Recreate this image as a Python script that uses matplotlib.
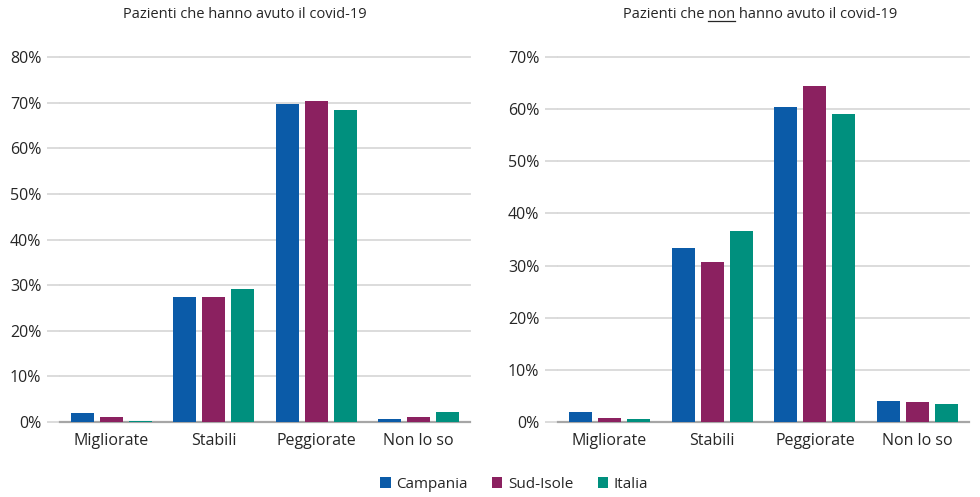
import matplotlib
matplotlib.use("Agg")
import matplotlib.pyplot as plt
import numpy as np

plt.rcParams['font.family'] = ['Open Sans', 'DejaVu Sans']

## data (fractions)
categories = ["Migliorate", "Stabili", "Peggiorate", "Non lo so"]
series_names = ["Campania", "Sud-Isole", "Italia"]
colors = ["#0B5BA8", "#8B2160", "#00907E"]

covid_campania = [0.019, 0.273, 0.697, 0.007]
covid_sud = [0.010, 0.273, 0.704, 0.010]
covid_italia = [0.003, 0.291, 0.684, 0.023]

noncovid_campania = [0.020, 0.334, 0.605, 0.040]
noncovid_sud = [0.008, 0.306, 0.644, 0.038]
noncovid_italia = [0.005, 0.367, 0.590, 0.035]

left_ticks = [0, 0.1, 0.2, 0.3, 0.4, 0.5, 0.6, 0.7, 0.8]
right_ticks = [0, 0.1, 0.2, 0.3, 0.4, 0.5, 0.6, 0.7]

W, H = 980, 497
fig = plt.figure(figsize=(W / 100, H / 100), dpi=100)

grid_col = "#D9D9D9"
base_col = "#A6A6A6"
txt_col = "#262626"


def draw_panel(ax, data, ticks):
    x = np.arange(len(categories))
    bw = 23 / 102.7
    step = 29 / 102.7
    for i, vals in enumerate(data):
        ax.bar(x + (i - 1) * step, vals, width=bw, color=colors[i], zorder=3,
               label=series_names[i])
    ax.set_xlim(-0.5, 3.5)
    ax.set_ylim(0, ticks[-1])
    ax.set_yticks(ticks)
    ax.set_yticklabels(["%d%%" % round(t * 100) for t in ticks])
    ax.set_xticks(x)
    ax.set_xticklabels(categories)
    ax.yaxis.grid(True, color=grid_col, linewidth=1.3, zorder=0)
    for gl in ax.get_ygridlines():
        gl.set_clip_on(False)
    for s in ["top", "right", "left"]:
        ax.spines[s].set_visible(False)
    ax.spines["bottom"].set_color(base_col)
    ax.spines["bottom"].set_linewidth(1.6)
    ax.tick_params(axis="y", length=9.5, color=grid_col, width=1.3,
                   labelsize=11.5, labelcolor=txt_col, pad=4)
    ax.tick_params(axis="x", length=0, labelsize=11.5, labelcolor=txt_col, pad=8)


bottom = 1 - 422 / H
height = (422 - 57) / H

ax1 = fig.add_axes([60 / W, bottom, 410 / W, height])
draw_panel(ax1, [covid_campania, covid_sud, covid_italia], left_ticks)

ax2 = fig.add_axes([558 / W, bottom, 411 / W, height])
draw_panel(ax2, [noncovid_campania, noncovid_sud, noncovid_italia], right_ticks)

# titles
ty = 1 - 14 / H
fig.text(245 / W, ty, "Pazienti che hanno avuto il covid-19", ha="center",
         va="center", fontsize=10.5, color=txt_col)
t2 = fig.text(760 / W, ty, "Pazienti che non hanno avuto il covid-19",
              ha="center", va="center", fontsize=10.5, color=txt_col)

# underline "non"
fig.canvas.draw()
r = fig.canvas.get_renderer()
bb = t2.get_window_extent(renderer=r)
prop = t2.get_fontproperties()
w_pre, _, _ = r.get_text_width_height_descent("Pazienti che non", prop, ismath=False)
w_non, _, _ = r.get_text_width_height_descent("non", prop, ismath=False)
x0 = bb.x0 + w_pre - w_non
x1 = bb.x0 + w_pre
yl = bb.y0 + 1
fig.add_artist(plt.Line2D([x0 / W, x1 / W], [yl / H, yl / H], color=txt_col,
                          linewidth=0.9, transform=fig.transFigure))

# legend
handles, labels = ax1.get_legend_handles_labels()
fig.legend(handles, labels, loc="center", bbox_to_anchor=(514 / W, 1 - 484 / H),
           ncol=3, frameon=False, fontsize=11, handlelength=0.7,
           handleheight=0.7, handletextpad=0.35, columnspacing=1.6,
           labelcolor=txt_col)

fig.savefig("out.png", dpi=100)
